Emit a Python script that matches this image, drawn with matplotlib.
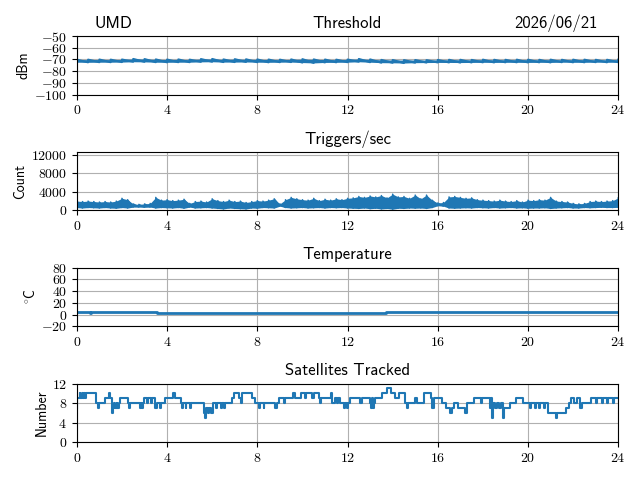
import matplotlib
matplotlib.use('Agg')
import matplotlib.pyplot as plt
import numpy as np

plt.rcParams['font.family'] = ['cmr10', 'DejaVu Sans']
plt.rcParams['mathtext.fontset'] = 'cm'
plt.rcParams['axes.formatter.use_mathtext'] = True
plt.rcParams['axes.unicode_minus'] = True

SITE = 'UMD'
DATE = '2026/06/21'
HOUR_TICKS = [0, 4, 8, 12, 16, 20, 24]

# threshold envelope, every half hour (dBm)
thr_hours = [i * 0.5 for i in range(49)]
thr_hi = [-70.2, -70.2, -70.1, -70.2, -70.1, -69.6, -69.7, -70.0, -70.1, -70.0,
          -70.2, -69.7, -69.6, -70.0, -69.8, -69.9, -70.0, -70.1, -70.2, -70.0,
          -69.8, -70.0, -70.1, -70.2, -70.1, -69.6, -70.0, -70.4, -70.5, -70.6,
          -70.5, -70.6, -70.4, -70.3, -70.3, -70.4, -70.2, -70.3, -70.3, -70.2,
          -70.2, -70.3, -70.2, -70.3, -70.2, -70.2, -70.3, -70.3, -70.2]
thr_lo = [-72.4, -72.5, -72.4, -72.4, -72.3, -72.0, -72.1, -72.4, -72.5, -72.4,
          -72.4, -72.1, -72.0, -72.3, -72.3, -72.2, -72.4, -72.5, -72.4, -72.3,
          -72.7, -73.0, -72.6, -72.5, -72.4, -72.0, -72.4, -72.8, -72.9, -73.1,
          -72.8, -72.7, -72.6, -72.6, -72.7, -72.6, -72.5, -72.6, -72.5, -72.5,
          -72.6, -72.5, -72.6, -72.4, -72.5, -72.5, -72.4, -72.5, -72.4]

# trigger rate envelope, every quarter hour (counts)
trig_hours = [i * 0.25 for i in range(97)]
trig_hi = [2000, 1900, 2000, 1900, 1800, 1900, 1800, 2000, 2600, 2300,
           1400, 1300, 1400, 1500, 2800, 2200, 2300, 2100, 2200, 2400,
           1500, 1900, 2000, 1800, 2500, 2100, 1900, 2200, 1900, 2000,
           1700, 1900, 2100, 2000, 2200, 2500, 1400, 2300, 2800, 2500,
           2300, 2200, 2600, 2100, 2400, 2200, 2500, 2300, 2600, 2700,
           3000, 2800, 3100, 2900, 3200, 2700, 3500, 2900, 3000, 2600,
           3300, 2500, 3300, 2200, 1600, 1700, 2900, 3000, 2800, 2600,
           2700, 2300, 2200, 2100, 2000, 2200, 2000, 1900, 2100, 1800,
           2200, 2100, 2300, 2200, 2800, 2000, 1900, 1800, 1500, 1400,
           1500, 1900, 2000, 1900, 2000, 2100, 2700]
trig_lo = [600, 500, 600, 550, 500, 600, 500, 450, 600, 500,
           700, 700, 650, 700, 500, 600, 550, 500, 600, 450,
           700, 500, 550, 600, 500, 400, 300, 500, 400, 350,
           300, 500, 450, 600, 550, 500, 900, 600, 500, 550,
           600, 500, 550, 600, 500, 600, 550, 600, 500, 450,
           400, 500, 350, 450, 300, 400, 250, 450, 400, 500,
           450, 500, 400, 600, 1000, 900, 500, 450, 500, 550,
           500, 600, 550, 500, 600, 500, 550, 600, 500, 550,
           450, 500, 500, 550, 400, 500, 550, 600, 500, 500,
           600, 550, 600, 650, 600, 600, 650]

# board temperature (deg C), step changes
temp_hours = [0.0, 0.58, 0.62, 3.55, 13.72, 24.0]
temp_vals = [5.0, 2.5, 5.0, 3.0, 5.0, 5.0]

# satellites tracked, step changes
sat_hours = [0.00, 0.03, 0.12, 0.16, 0.22, 0.26, 0.30, 0.36, 0.40, 0.84,
             0.95, 1.00, 1.25, 1.42, 1.48, 1.54, 1.60, 1.66, 1.70, 1.76,
             1.80, 1.87, 1.92, 2.25, 2.30, 2.34, 2.78, 2.84, 2.88, 2.93,
             2.98, 3.10, 3.14, 3.30, 3.34, 3.48, 3.54, 3.68, 3.73, 3.92,
             4.26, 4.36, 4.60, 4.68, 4.72, 4.82, 4.86, 5.02, 5.06, 5.62,
             5.68, 5.74, 5.80, 5.86, 5.96, 6.02, 6.18, 6.22, 6.38, 6.42,
             6.52, 6.56, 6.88, 6.98, 7.20, 7.28, 7.34, 7.78, 7.90, 8.08,
             8.12, 8.28, 8.32, 8.80, 8.86, 8.96, 9.20, 9.24, 9.60, 9.68,
             9.92, 10.10, 10.14, 10.42, 10.50, 10.72, 10.80, 10.84, 11.26, 11.32,
             11.44, 11.52, 11.60, 11.66, 11.84, 11.90, 11.96, 12.00, 12.10, 12.56,
             12.62, 12.98, 13.02, 13.08, 13.12, 13.18, 13.24, 13.54, 13.76, 13.92,
             14.10, 14.30, 14.56, 14.62, 14.68, 15.00, 15.06, 15.40, 15.70, 15.76,
             15.82, 16.20, 16.36, 16.54, 16.62, 16.72, 16.90, 17.22, 17.28, 17.62,
             17.92, 17.98, 18.30, 18.34, 18.40, 18.46, 18.54, 18.62, 18.70, 18.80,
             18.88, 18.94, 19.22, 19.48, 19.78, 20.08, 20.12, 20.30, 20.34, 20.50,
             20.54, 20.70, 20.76, 20.90, 21.22, 21.28, 21.70, 21.80, 21.90, 22.06,
             22.18, 22.30, 22.40, 22.80, 23.02, 23.06, 23.30, 23.34, 23.52, 23.56,
             23.76, 23.80, 24.00]
sat_vals = [7, 9, 10, 9, 10, 9, 10, 9, 10, 8,
            7, 8, 9, 10, 9, 6, 7, 8, 7, 8,
            7, 8, 9, 8, 7, 8, 7, 8, 7, 8,
            9, 8, 9, 8, 9, 7, 8, 7, 8, 9,
            10, 9, 8, 7, 8, 7, 8, 7, 8, 6,
            5, 7, 6, 7, 6, 8, 7, 8, 7, 8,
            7, 8, 9, 10, 9, 8, 10, 9, 8, 7,
            8, 7, 8, 7, 8, 9, 8, 9, 10, 9,
            10, 9, 10, 9, 10, 9, 8, 9, 10, 8,
            9, 8, 9, 8, 7, 8, 7, 8, 9, 8,
            9, 8, 7, 9, 7, 8, 9, 10, 11, 10,
            9, 10, 8, 7, 8, 9, 8, 10, 9, 7,
            9, 8, 7, 6, 7, 8, 7, 6, 8, 9,
            8, 9, 7, 9, 5, 8, 7, 8, 7, 8,
            5, 7, 8, 9, 8, 7, 8, 7, 8, 7,
            8, 7, 8, 6, 5, 6, 7, 8, 9, 8,
            9, 7, 8, 9, 8, 9, 8, 9, 8, 9,
            8, 9, 9]

BLUE = '#1f77b4'
SANS = 'cmss10'


def noisy_band(ax, t, lo, hi, lw):
    # solid band plus a trace that runs up and down each sample
    ax.fill_between(t, lo, hi, color=BLUE, lw=0)
    xs = np.repeat(t, 2)
    ys = np.column_stack([lo, hi]).ravel()
    ax.plot(xs, ys, color=BLUE, lw=lw)


def setup(ax, title, ylabel, ylim, yticks):
    ax.set_xlim(0, 24)
    ax.set_xticks(HOUR_TICKS)
    ax.set_ylim(*ylim)
    ax.set_yticks(yticks)
    ax.grid(True, color='#b0b0b0', lw=0.8)
    ax.set_axisbelow(True)
    ax.set_title(title, family=SANS, fontsize=12)
    ax.set_ylabel(ylabel, family=SANS, fontsize=10, labelpad=2.5)


fig, axes = plt.subplots(4, 1, figsize=(6.4, 4.8), dpi=100)
fig.subplots_adjust(left=0.120, right=0.966, top=0.925, bottom=0.079, hspace=0.98)

ax = axes[0]
noisy_band(ax, thr_hours, thr_lo, thr_hi, 1.5)
setup(ax, 'Threshold', 'dBm', (-100, -50), range(-100, -49, 10))
for label, xpos in [(SITE, 0.067), (DATE, 0.885)]:
    ax.annotate(label, (xpos, 1.0), xycoords='axes fraction', xytext=(0, 6),
                textcoords='offset points', ha='center', va='baseline',
                family=SANS, fontsize=12)

ax = axes[1]
noisy_band(ax, trig_hours, trig_lo, trig_hi, 1.0)
setup(ax, 'Triggers/sec', 'Count', (0, 12600), [0, 4000, 8000, 12000])

ax = axes[2]
ax.step(temp_hours, temp_vals, where='post', color=BLUE, lw=2)
setup(ax, 'Temperature', r'$^\circ\!\mathsf{C}$', (-20, 80), range(-20, 81, 20))

ax = axes[3]
ax.step(sat_hours, sat_vals, where='post', color=BLUE, lw=1.5)
setup(ax, 'Satellites Tracked', 'Number', (0, 12), [0, 4, 8, 12])

fig.savefig('out.png', dpi=100)
